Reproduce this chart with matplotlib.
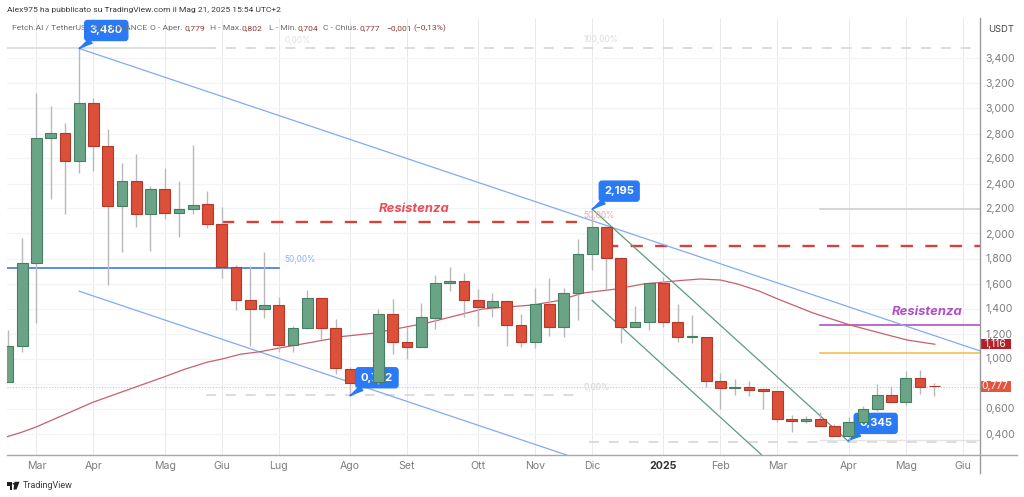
import matplotlib
matplotlib.use('Agg')
import matplotlib.pyplot as plt
from matplotlib.patches import Circle, Polygon, Rectangle

plt.rcParams['font.family'] = ['Inter', 'DejaVu Sans']

# weekly candles, FET/USDT
opens = [0.814, 1.100, 1.766, 2.764, 2.806, 2.580, 3.046, 2.700, 2.220, 2.417, 2.156, 2.356,
         2.164, 2.196, 2.234, 2.078, 1.732, 1.468, 1.396, 1.426, 1.108, 1.242, 1.482, 1.242,
         0.920, 0.806, 0.812, 1.356, 1.130, 1.094, 1.326, 1.606, 1.618, 1.466, 1.412, 1.460,
         1.270, 1.134, 1.436, 1.254, 1.524, 1.836, 2.050, 1.802, 1.250, 1.294, 1.604, 1.294,
         1.170, 1.172, 0.820, 0.762, 0.772, 0.756, 0.742, 0.520, 0.502, 0.514, 0.462, 0.380,
         0.490, 0.594, 0.706, 0.652, 0.842, 0.779]
closes = [1.100, 1.766, 2.764, 2.806, 2.580, 3.046, 2.700, 2.220, 2.417, 2.156, 2.356, 2.160,
          2.196, 2.230, 2.078, 1.732, 1.468, 1.396, 1.426, 1.108, 1.242, 1.482, 1.242, 0.922,
          0.806, 0.800, 1.356, 1.134, 1.094, 1.332, 1.606, 1.618, 1.468, 1.412, 1.460, 1.268,
          1.134, 1.438, 1.254, 1.524, 1.836, 2.050, 1.806, 1.250, 1.290, 1.604, 1.294, 1.170,
          1.178, 0.820, 0.762, 0.772, 0.750, 0.742, 0.520, 0.500, 0.514, 0.462, 0.380, 0.490,
          0.594, 0.706, 0.652, 0.842, 0.772, 0.777]
highs = [1.228, 1.964, 3.120, 3.020, 2.884, 3.480, 3.080, 2.840, 2.560, 2.636, 2.380, 2.520,
         2.420, 2.708, 2.342, 2.214, 1.748, 1.742, 1.854, 1.494, 1.260, 1.548, 1.482, 1.316,
         0.934, 0.924, 1.394, 1.474, 1.254, 1.444, 1.670, 1.734, 1.684, 1.556, 1.526, 1.468,
         1.356, 1.562, 1.642, 1.562, 1.954, 2.195, 2.060, 1.810, 1.420, 1.614, 1.650, 1.434,
         1.348, 1.172, 0.882, 0.836, 0.820, 0.756, 0.742, 0.548, 0.542, 0.574, 0.476, 0.534,
         0.620, 0.796, 0.782, 0.900, 0.908, 0.802]
lows = [0.810, 1.052, 1.286, 2.276, 2.156, 2.484, 2.500, 1.588, 1.854, 2.054, 1.862, 2.116,
        1.970, 2.158, 2.040, 1.646, 1.388, 1.100, 1.324, 1.052, 1.054, 1.236, 1.156, 0.876,
        0.702, 0.780, 0.800, 1.036, 0.996, 1.094, 1.234, 1.542, 1.332, 1.262, 1.334, 1.102,
        1.090, 1.086, 1.182, 1.174, 1.308, 1.708, 1.548, 1.122, 1.250, 1.228, 1.254, 1.134,
        1.122, 0.770, 0.596, 0.708, 0.700, 0.596, 0.494, 0.414, 0.486, 0.462, 0.380, 0.345,
        0.490, 0.582, 0.652, 0.628, 0.714, 0.704]

# moving average
ma_idx = [-0.07, 0.96, 2.01, 5.96, 10.88, 12.4, 13.96, 15.02, 16.3, 17.68, 18.95, 22.6, 23.3,
          25.6, 29.4, 33.3, 36.8, 38.6, 40.35, 42.7, 44.6, 47.2, 48.6, 50, 51.2, 52.7, 54.2,
          56.5, 59.1, 61.2, 63.1, 65.05]
ma_val = [0.374, 0.41, 0.454, 0.65, 0.85, 0.914, 0.97, 0.996, 1.034, 1.054, 1.082, 1.156, 1.174,
          1.202, 1.284, 1.396, 1.428, 1.462, 1.524, 1.556, 1.596, 1.624, 1.636, 1.628, 1.596,
          1.54, 1.468, 1.364, 1.268, 1.204, 1.148, 1.114]

month_idx = [2, 6, 11, 15, 19, 24, 28, 33, 37, 41, 46, 50, 54, 59, 63, 67]
month_labels = ['Mar', 'Apr', 'Mag', 'Giu', 'Lug', 'Ago', 'Set', 'Ott', 'Nov', 'Dic', '2025',
                'Feb', 'Mar', 'Apr', 'Mag', 'Giu']
price_ticks = [0.4, 0.6, 0.8, 1.0, 1.2, 1.4, 1.6, 1.8, 2.0, 2.2, 2.4, 2.6, 2.8, 3.0, 3.2, 3.4]

GREEN, GREEN_EDGE = '#6ba386', '#437f62'
RED, RED_EDGE = '#dc4f39', '#b5392a'
BLUE_LINE = '#82abf0'
CALLOUT = '#2a7af5'
W, H = 1024, 497


def tx(x):
    return x / W


def ty(y):
    return 1 - y / H


fig = plt.figure(figsize=(10.24, 4.97), dpi=100, facecolor='white')
ax = fig.add_axes([tx(7), ty(455), tx(979.5) - tx(7), ty(18) - ty(455)])
ax.set_xlim(-0.07, 68.18)
ax.set_ylim(0.228, 3.724)
ax.set_zorder(2)
ax.patch.set_alpha(0)

for s in ['top', 'left', 'right', 'bottom']:
    ax.spines[s].set_visible(False)

ax.set_axisbelow(True)
ax.yaxis.tick_right()
ax.set_yticks(price_ticks)
# 0,800 sits behind the last price tag
ax.set_yticklabels(['' if p == 0.8 else f'{p:.3f}'.replace('.', ',') for p in price_ticks])
ax.set_xticks(month_idx)
ax.set_xticklabels(month_labels)
ax.tick_params(axis='both', length=0, labelsize=7.6, labelcolor='#7d7d7d')
ax.tick_params(axis='y', pad=4)
ax.tick_params(axis='x', pad=4)
ax.get_xticklabels()[10].set_fontweight('bold')
ax.get_xticklabels()[10].set_color('#333333')
ax.grid(axis='y', color='#f3f4f7', lw=0.9)
ax.grid(axis='x', color='#e9eaee', lw=0.7)

# horizontal levels
ax.axhline(0.774, color='#f3b6b0', lw=0.8, ls=(0, (1, 1.5)), zorder=1)
ax.plot([-0.07, 13.9], [3.48, 3.48], color='#dddddd', lw=1.3, zorder=1)
ax.plot([13.9, 68.18], [3.48, 3.48], color='#d9d9d9', lw=1.3, ls=(0, (5.5, 5.5)), zorder=1)
ax.plot([13.9, 39.9], [0.71, 0.71], color='#d9d9d9', lw=1.3, ls=(0, (5.5, 5.5)), zorder=1)
ax.plot([40.8, 68.18], [0.335, 0.335], color='#d9d9d9', lw=1.3, ls=(0, (5.5, 5.5)), zorder=1)
ax.plot([57, 68.18], [0.345, 0.345], color='#e4e4e4', lw=1.0, zorder=1)
ax.plot([-0.07, 19], [1.722, 1.722], color='#3f78e0', lw=1.2, zorder=2)
ax.plot([57, 68.18], [2.195, 2.195], color='#cfcfcf', lw=1.2, zorder=2)
ax.plot([57, 68.18], [1.266, 1.266], color='#b14fc5', lw=1.2, zorder=2)
ax.plot([57, 68.18], [1.046, 1.046], color='#f2c14e', lw=1.2, zorder=2)
ax.plot([15, 39.9], [2.094, 2.094], color='#d8403a', lw=1.7, ls=(0, (5.2, 5.2)), zorder=2)
ax.plot([42, 68.18], [1.898, 1.898], color='#d8403a', lw=1.7, ls=(0, (5.2, 5.2)), zorder=2)

# trend lines
ax.plot([5, 68.18], [3.48, 1.062], color=BLUE_LINE, lw=0.9, zorder=2)
ax.plot([5, 39.2], [1.538, 0.228], color=BLUE_LINE, lw=0.9, zorder=2)
ax.plot([41, 59], [2.195, 0.335], color='#5f9a82', lw=0.9, zorder=2)
ax.plot([41, 52.9], [1.464, 0.228], color='#5f9a82', lw=0.9, zorder=2)
ax.plot(ma_idx, ma_val, color='#c8606c', lw=0.9, zorder=2)

# candles
front = [26, 59, 60]
for i in range(len(opens)):
    up = closes[i] >= opens[i]
    z = 6 if i in front else 3
    ax.vlines(i, lows[i], highs[i], color='#b9b9b9', lw=1.0, zorder=z)
    bottom = min(opens[i], closes[i])
    ax.bar(i, abs(closes[i] - opens[i]), bottom=bottom, width=0.76,
           color=GREEN if up else RED, edgecolor=GREEN_EDGE if up else RED_EDGE,
           linewidth=0.8, zorder=z + 0.5)


# callouts with a pointer to the extreme
def callout(text, xi, price, dx, dy):
    ax.annotate(text, xy=(xi, price), xytext=(dx, dy), textcoords='offset pixels',
                ha='center', va='center', color='white', fontsize=8, fontweight='bold',
                bbox=dict(boxstyle='round,pad=0.45,rounding_size=0.25', fc=CALLOUT, ec=CALLOUT),
                arrowprops=dict(arrowstyle='wedge,tail_width=0.5,shrink_factor=0.4', fc=CALLOUT,
                                ec=CALLOUT, shrinkA=0, shrinkB=0),
                zorder=5, annotation_clip=False)


callout('3,480', 5, 3.48, 27, 18)
callout('2,195', 41, 2.195, 27, 18)
callout('0,702', 24, 0.702, 27, 18)
callout('0,345', 59, 0.345, 27, 17)

# texts on the pane
ax.text(28.5, 2.196, 'Resistenza', color='#ec4c56', fontsize=9.4, fontstyle='italic',
        fontweight='bold', ha='center', va='center', zorder=7)
ax.text(64.5, 1.372, 'Resistenza', color='#b14fc5', fontsize=9.4, fontstyle='italic',
        fontweight='bold', ha='center', va='center', zorder=7)
ax.text(19.4, 1.79, '50,00%', color='#8fb3ef', fontsize=6, ha='left', va='center')
ax.text(40.4, 2.14, '50,00%', color='#f0a6a0', fontsize=6, ha='left', va='center')
ax.text(19.4, 3.54, '0,00%', color='#e0e0e0', fontsize=6, ha='left', va='center')
ax.text(40.4, 3.55, '100,00%', color='#dcdcdc', fontsize=6, ha='left', va='center')
ax.text(40.4, 0.77, '0,00%', color='#d4d4d4', fontsize=6, ha='left', va='center')

# last price tags on the scale
ytrans = ax.get_yaxis_transform()
for price, label, col in [(1.116, '1,116', '#b3202a'), (0.777, '0,777', '#e2553f')]:
    ax.add_patch(Rectangle((1.0, price - 0.042), 31.5 / 972.5, 0.084, transform=ytrans, fc=col,
                           ec='none', clip_on=False, zorder=8))
    ax.text(1 + 15.7 / 972.5, price, label, transform=ytrans, color='white', fontsize=7.4,
            ha='center', va='center', clip_on=False, zorder=9)

# scale lines
fig.add_artist(plt.Line2D([tx(979.5), tx(979.5)], [ty(18), ty(473)], color='#9a9a9a', lw=1.0,
                          zorder=3))
fig.add_artist(plt.Line2D([tx(7), tx(1017)], [ty(455), ty(455)], color='#a8a8a8', lw=1.0,
                          zorder=3))

fig.text(tx(988), ty(29), 'USDT', color='#444444', fontsize=6.8, va='center')
fig.text(tx(7), ty(10), 'Alex975 ha pubblicato su TradingView.com il Mag 21, 2025 15:54 UTC+2',
         color='#3a3a3a', fontsize=6.1, va='center', family='Roboto')

# legend row, goes under the first callout
header = [(12, 'Fetch.AI / TetherUS · 1W · BINANCE', '#6e6e6e'), (150, 'O - Aper.', '#6e6e6e'),
          (184.5, '0,779', '#8c3a3a'), (210, 'H - Max.', '#6e6e6e'), (242, '0,802', '#8c3a3a'),
          (269, 'L - Min.', '#6e6e6e'), (297, '0,704', '#8c3a3a'), (323, 'C - Chius.', '#6e6e6e'),
          (360, '0,777', '#8c3a3a'), (386, '−0,001', '#8c3a3a'), (414, '(−0,13%)', '#8c3a3a')]
for x, s, col in header:
    fig.text(tx(x), ty(28), s, color=col, fontsize=6.1, va='center', family='Roboto')

# TradingView mark
logo = '#1e1e1e'
fig.add_artist(Rectangle((tx(7), ty(486)), tx(5), 4.2 / H, fc=logo, ec='none'))
fig.add_artist(Rectangle((tx(9.5), ty(489.5)), tx(2.5), 4 / H, fc=logo, ec='none'))
fig.add_artist(Circle((tx(14), ty(483.8)), 0.0016, fc=logo, ec='none'))
fig.add_artist(Polygon([(tx(14.5), ty(481.8)), (tx(19.5), ty(481.8)), (tx(16.5), ty(489.5)),
                        (tx(13.5), ty(489.5))], fc=logo, ec='none'))
fig.text(tx(23), ty(485.5), 'TradingView', color='#3a3a3a', fontsize=6.5, va='center',
         family='Roboto')

fig.savefig('out.png', dpi=100)
